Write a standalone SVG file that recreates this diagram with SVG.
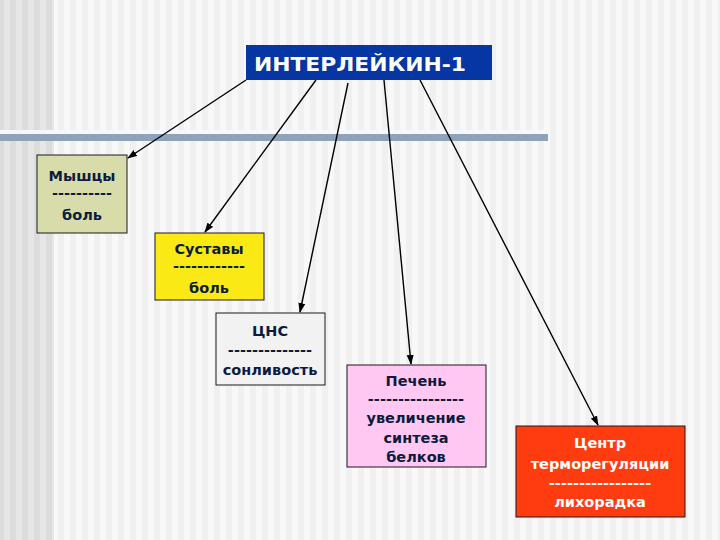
<svg xmlns="http://www.w3.org/2000/svg" width="720" height="540" viewBox="0 0 720 540">
<defs>
<pattern id="stripesL" x="0" y="0" width="12" height="540" patternUnits="userSpaceOnUse">
<rect width="12" height="540" fill="#dcdcdc"/>
<rect x="4" width="6" height="540" fill="#e6e6e6"/>
</pattern>
<pattern id="stripesR" x="0" y="0" width="12" height="540" patternUnits="userSpaceOnUse">
<rect width="12" height="540" fill="#f0f0f0"/>
<rect x="4" width="6" height="540" fill="#f8f8f8"/>
</pattern>
<marker id="arr" markerWidth="10" markerHeight="8" refX="9" refY="4" orient="auto" markerUnits="userSpaceOnUse">
<path d="M0,0.5 L10,4 L0,7.5 Z" fill="#000"/>
</marker>
</defs>
<style>
.box{stroke:#1a1a1a;stroke-width:1}
.t{font-family:"DejaVu Sans",Verdana,sans-serif;font-weight:bold;font-size:14.5px;fill:#0d1b3e;text-anchor:middle}
.w{fill:#ffffff}
.c{stroke:#000;stroke-width:1.4;fill:none;marker-end:url(#arr)}
</style>
<rect width="720" height="540" fill="url(#stripesR)"/>
<rect width="54" height="540" fill="url(#stripesL)"/>
<rect x="0" y="130" width="548" height="4" fill="#f4f8fc"/>
<rect x="0" y="134" width="548" height="7" fill="#8fa2b6"/>
<g id="connectors">
<line class="c" x1="246" y1="80" x2="128" y2="158"/>
<line class="c" x1="316" y1="80" x2="205" y2="232"/>
<line class="c" x1="348" y1="83" x2="300" y2="312"/>
<line class="c" x1="384" y1="80" x2="411" y2="364"/>
<line class="c" x1="420" y1="80" x2="598" y2="425"/>
</g>
<g id="il1">
<rect x="246" y="45" width="246" height="35" fill="#0536a4"/>
<text x="254" y="71" textLength="212" lengthAdjust="spacingAndGlyphs" style="font-family:'DejaVu Sans',Verdana,sans-serif;font-weight:bold;font-size:20px;fill:#ffffff">ИНТЕРЛЕЙКИН-1</text>
</g>
<g id="myshtsy">
<rect class="box" x="37" y="155" width="90" height="78" fill="#d8dcaa"/>
<text class="t" x="82" y="181">Мышцы</text>
<text class="t" x="82" y="198">----------</text>
<text class="t" x="82" y="220">боль</text>
</g>
<g id="sustavy">
<rect class="box" x="155" y="233" width="109" height="67" fill="#fbe916"/>
<text class="t" x="209" y="254">Суставы</text>
<text class="t" x="209" y="271">------------</text>
<text class="t" x="209" y="293">боль</text>
</g>
<g id="cns">
<rect class="box" x="216" y="313" width="109" height="72" fill="#f2f2f2"/>
<text class="t" x="270" y="336">ЦНС</text>
<text class="t" x="270" y="355">--------------</text>
<text class="t" x="270" y="375">сонливость</text>
</g>
<g id="pechen">
<rect class="box" x="347" y="365" width="139" height="102" fill="#fec8f2"/>
<text class="t" x="416" y="386">Печень</text>
<text class="t" x="416" y="404">----------------</text>
<text class="t" x="416" y="423">увеличение</text>
<text class="t" x="416" y="443">синтеза</text>
<text class="t" x="416" y="462">белков</text>
</g>
<g id="centr">
<rect class="box" x="516" y="426" width="169" height="91" fill="#fe3c10"/>
<text class="t w" x="600" y="448">Центр</text>
<text class="t w" x="600" y="469">терморегуляции</text>
<text class="t w" x="600" y="488">-----------------</text>
<text class="t w" x="600" y="507">лихорадка</text>
</g>
</svg>
